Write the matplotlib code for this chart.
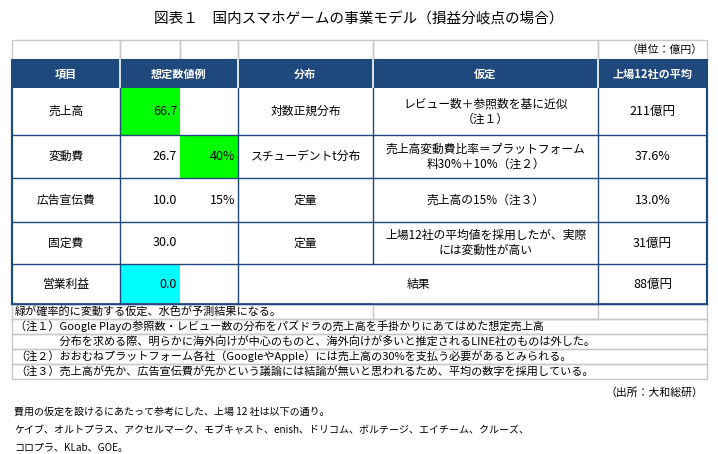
import matplotlib
matplotlib.use("Agg")
import matplotlib.pyplot as plt
from matplotlib.patches import Rectangle

plt.rcParams["font.family"] = "Noto Sans CJK JP"

W, H = 718, 454
TITLE = "図表１　国内スマホゲームの事業モデル（損益分岐点の場合）"
UNIT = "（単位：億円）"
HEADERS = ["項目", "想定数値例", "分布", "仮定", "上場12社の平均"]
ITEMS = ["売上高", "変動費", "広告宣伝費", "固定費", "営業利益"]
VALUES = ["66.7", "26.7", "10.0", "30.0", "0.0"]
RATES = ["", "40%", "15%", "", ""]
DISTS = ["対数正規分布", "スチューデントt分布", "定量", "定量", ""]
ASSUMPTIONS = ["レビュー数＋参照数を基に近似\n（注１）",
               "売上高変動費比率＝プラットフォーム\n料30%＋10%（注２）",
               "売上高の15%（注３）",
               "上場12社の平均値を採用したが、実際\nには変動性が高い",
               "結果"]
AVERAGES = ["211億円", "37.6%", "13.0%", "31億円", "88億円"]
NOTES = ["緑が確率的に変動する仮定、水色が予測結果になる。",
         "（注１）Google Playの参照数・レビュー数の分布をパズドラの売上高を手掛かりにあてはめた想定売上高",
         "　　　　分布を求める際、明らかに海外向けが中心のものと、海外向けが多いと推定されるLINE社のものは外した。",
         "（注２）おおむねプラットフォーム各社（GoogleやApple）には売上高の30%を支払う必要があるとみられる。",
         "（注３）売上高が先か、広告宣伝費が先かという議論には結論が無いと思われるため、平均の数字を採用している。"]
SOURCE = "（出所：大和総研）"
FOOTER = ["費用の仮定を設けるにあたって参考にした、上場 12 社は以下の通り。",
          "ケイブ、オルトプラス、アクセルマーク、モブキャスト、enish、ドリコム、ボルテージ、エイチーム、クルーズ、",
          "コロプラ、KLab、GOE。"]

NAVY = "#1f497d"
GRID = "#c8c8c8"
cols = [12, 120, 180, 238, 373, 598, 707]
rows = [88, 135, 178, 222, 264, 304]

fig = plt.figure(figsize=(W / 100, H / 100), dpi=100)
ax = fig.add_axes([0, 0, 1, 1])
ax.set_xlim(0, W)
ax.set_ylim(H, 0)
ax.axis("off")


def rect(x0, y0, x1, y1, **kw):
    ax.add_patch(Rectangle((x0, y0), x1 - x0, y1 - y0, **kw))


def text(x, y, s, size=8.5, ha="center", **kw):
    ax.text(x, y, s, fontsize=size, ha=ha, va="center", **kw)


text(W / 2, 19, TITLE, size=10.5)

# unit row with light grid
for i in range(len(cols) - 1):
    rect(cols[i], 40, cols[i + 1], 60, fill=False, ec=GRID, lw=1)
text(703, 50, UNIT, size=7.8, ha="right")

# header
rect(cols[0], 60, cols[-1], rows[0], fc=NAVY, ec="white", lw=0)
hdr_spans = [(0, 1), (1, 3), (3, 4), (4, 5), (5, 6)]
for (a, b), h in zip(hdr_spans, HEADERS):
    if a > 0:
        ax.plot([cols[a]] * 2, [60, rows[0]], color="white", lw=1.2)
    text((cols[a] + cols[b]) / 2, 74, h, color="white", weight="bold", size=8)

# data rows
for r in range(len(ITEMS)):
    y0, y1 = rows[r], rows[r + 1]
    ym = (y0 + y1) / 2
    if r == 0:
        rect(cols[1], y0, cols[2], y1, fc="#00ff00", ec="none")
    if r == 1:
        rect(cols[2], y0, cols[3], y1, fc="#00ff00", ec="none")
    if r == len(ITEMS) - 1:
        rect(cols[1], y0, cols[2], y1, fc="#00ffff", ec="none")
    text((cols[0] + cols[1]) / 2, ym, ITEMS[r])
    text(cols[2] - 3, ym, VALUES[r], ha="right", size=9)
    if RATES[r]:
        text(cols[3] - 3, ym, RATES[r], ha="right", size=9)
    if r < len(ITEMS) - 1:
        text((cols[3] + cols[4]) / 2, ym, DISTS[r])
        text((cols[4] + cols[5]) / 2, ym, ASSUMPTIONS[r], linespacing=1.2)
    else:
        text((cols[3] + cols[5]) / 2, ym, ASSUMPTIONS[r])
    text((cols[5] + cols[6]) / 2, ym, AVERAGES[r], size=9)
    ax.plot([cols[0], cols[-1]], [y1, y1], color=NAVY, lw=1)
for i, c in enumerate(cols):
    ys = (rows[0], rows[-2]) if c == cols[4] else (rows[0], rows[-1])
    if c == cols[2]:
        continue
    ax.plot([c, c], ys, color=NAVY, lw=1.5 if i in (0, 6) else 1)
rect(cols[0], 60, cols[-1], rows[-1], fill=False, ec=NAVY, lw=1.5)

# notes
ny = 304
for i, n in enumerate(NOTES):
    y0, y1 = ny + i * 15, ny + (i + 1) * 15
    rect(cols[0], y0, cols[-1], y1, fill=False, ec=GRID, lw=1)
    if i == 0:
        rect(cols[4], y0, cols[5], y1, fill=False, ec=GRID, lw=1)
    text(cols[0] + 3, (y0 + y1) / 2, n, ha="left", size=8)

text(703, 393, SOURCE, size=7.8, ha="right")
for i, line in enumerate(FOOTER):
    ax.text(14, 412 + i * 18, line, fontsize=7.2, ha="left", va="center")

fig.savefig("out.png", dpi=100)
